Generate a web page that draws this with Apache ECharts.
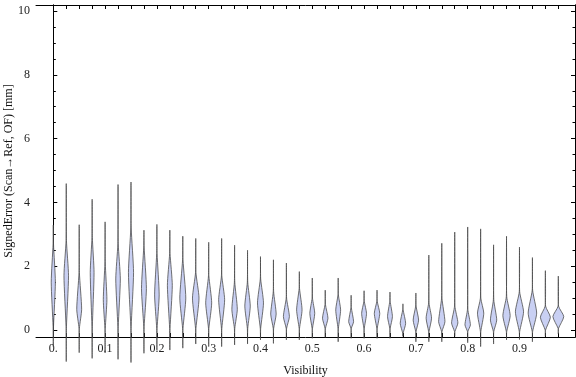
<!DOCTYPE html>
<html>
<head>
<meta charset="utf-8">
<script src="https://cdn.jsdelivr.net/npm/echarts@6/dist/echarts.min.js"></script>
<style>
  html, body { margin: 0; padding: 0; background: #fff; }
  #chart { width: 576px; height: 377px; }
</style>
</head>
<body>
<div id="chart"></div>
<script>
// violin chart: SignedError vs Visibility

// violin positions (Visibility bins)
var visibility = [0, 0.025, 0.05, 0.075, 0.1, 0.125, 0.15, 0.175, 0.2, 0.225,
                  0.25, 0.275, 0.3, 0.325, 0.35, 0.375, 0.4, 0.425, 0.45, 0.475,
                  0.5, 0.525, 0.55, 0.575, 0.6, 0.625, 0.65, 0.675, 0.7, 0.725,
                  0.75, 0.775, 0.8, 0.825, 0.85, 0.875, 0.9, 0.925, 0.95, 0.975];
// min / max of each distribution
var errMin = [-0.52, -0.99, -0.71, -0.89, -0.72, -0.92, -1.02, -0.73, -0.63, -0.63,
              -0.57, -0.44, -0.52, -0.52, -0.47, -0.44, -0.31, -0.42, -0.31, -0.31,
              -0.26, -0.23, -0.37, -0.26, -0.26, -0.26, -0.26, -0.20, -0.37, -0.37,
              -0.37, -0.20, -0.40, -0.52, -0.44, -0.31, -0.30, -0.37, -0.20, -0.12];
var errMax = [3.29, 4.59, 3.30, 4.10, 3.39, 4.56, 4.64, 3.13, 3.31, 3.13,
              2.94, 2.87, 2.75, 2.87, 2.66, 2.50, 2.30, 2.20, 2.10, 1.83,
              1.63, 1.25, 1.63, 1.09, 1.23, 1.25, 1.19, 0.82, 1.16, 2.35,
              2.72, 3.07, 3.23, 3.17, 2.67, 2.94, 2.60, 2.27, 1.86, 1.69];
// body of the density: lower end, mode, upper end
var bodyLow = [0.10, 0.10, 0.05, 0.10, 0.05, 0.10, 0.10, 0.10, 0.05, 0.05,
               0.05, 0.05, 0.05, 0.05, 0.05, 0.05, 0.05, 0.05, 0.05, 0.05,
               0.05, 0.05, 0.05, 0.05, 0.05, 0.05, 0.05, -0.10, -0.05, -0.05,
               -0.05, -0.05, -0.05, -0.05, -0.05, -0.05, -0.05, -0.05, 0.00, 0.05];
var bodyMode = [1.50, 1.70, 0.65, 1.80, 0.95, 1.60, 1.80, 1.30, 1.10, 1.40,
                1.00, 1.00, 0.85, 0.95, 0.65, 0.75, 0.85, 0.50, 0.42, 0.63,
                0.52, 0.37, 0.63, 0.26, 0.52, 0.52, 0.42, 0.21, 0.31, 0.37,
                0.26, 0.22, 0.16, 0.53, 0.31, 0.45, 0.57, 0.53, 0.40, 0.42];
var bodyHigh = [2.70, 2.80, 1.80, 2.90, 2.10, 2.70, 3.20, 2.60, 2.40, 2.40,
                2.20, 1.80, 1.70, 1.70, 1.50, 1.50, 1.60, 1.20, 1.00, 1.30,
                1.00, 0.80, 1.10, 0.70, 0.90, 0.90, 0.90, 0.63, 0.75, 0.85,
                1.00, 0.75, 0.65, 1.00, 0.95, 1.05, 1.20, 1.25, 0.75, 0.75];
// peak density (relative)
var peakDensity = [0.38, 0.42, 0.45, 0.35, 0.33, 0.42, 0.47, 0.45, 0.42, 0.45,
                   0.55, 0.60, 0.55, 0.55, 0.50, 0.50, 0.55, 0.50, 0.55, 0.50,
                   0.45, 0.50, 0.45, 0.45, 0.45, 0.50, 0.45, 0.50, 0.50, 0.50,
                   0.58, 0.58, 0.50, 0.58, 0.58, 0.67, 0.75, 0.78, 0.92, 1.00];

var xLabelValues = [0, 0.1, 0.2, 0.3, 0.4, 0.5, 0.6, 0.7, 0.8, 0.9];
var xLabelText = ['0.', '0.1', '0.2', '0.3', '0.4', '0.5', '0.6', '0.7', '0.8', '0.9'];
var yMajor = [0, 2, 4, 6, 8, 10];
var yMinor = [0.5, 1, 1.5, 2.5, 3, 3.5, 4.5, 5, 5.5, 6.5, 7, 7.5, 8.5, 9, 9.5];

var HALF_MAX = 0.0105;   // half width of the fattest violin, in x units
var TAIL = 0.0004;

var violinData = visibility.map(function (v, i) {
    return [v, errMin[i], bodyLow[i], bodyMode[i], bodyHigh[i], errMax[i], peakDensity[i]];
});

var serif = '"Liberation Serif", "DejaVu Serif", serif';

var chart = echarts.init(document.getElementById('chart'));

function yAx(pos, ticks, len, labels) {
    return {
        type: 'value',
        position: pos,
        min: -0.22,
        max: 10.19,
        axisLine: {show: true, lineStyle: {color: '#000', width: 1}},
        axisTick: {show: true, inside: true, length: len, customValues: ticks,
                   lineStyle: {color: '#000', width: 1}},
        axisLabel: labels ? {show: true, customValues: yMajor, margin: 6,
                   fontFamily: serif, fontSize: 12, color: '#222'} : {show: false},
        splitLine: {show: false}
    };
}

var option = {
    animation: false,
    backgroundColor: '#fff',
    grid: {left: 36, right: 1, top: 5, bottom: 40, containLabel: false, outerBoundsMode: 'none'},
    xAxis: [
        {
            type: 'value',
            position: 'bottom',
            min: -0.0334,
            max: 1.0072,
            name: 'Visibility',
            nameLocation: 'middle',
            nameGap: 28,
            nameTextStyle: {fontFamily: serif, fontSize: 12, color: '#111'},
            axisLine: {show: true, onZero: false, lineStyle: {color: '#000', width: 1}},
            axisTick: {show: true, inside: true, length: 4, customValues: visibility,
                       lineStyle: {color: '#000'}},
            axisLabel: {
                show: true,
                customValues: xLabelValues,
                margin: 6,
                fontFamily: serif,
                fontSize: 12,
                color: '#222',
                formatter: function (v) {
                    var k = xLabelValues.indexOf(v);
                    return k >= 0 ? xLabelText[k] : '';
                }
            },
            splitLine: {show: false}
        },
        {
            type: 'value',
            position: 'top',
            min: -0.0334,
            max: 1.0072,
            axisLine: {show: true, onZero: false, lineStyle: {color: '#000', width: 1}},
            axisTick: {show: true, inside: true, length: 4, customValues: visibility,
                       lineStyle: {color: '#000'}},
            axisLabel: {show: false},
            splitLine: {show: false}
        }
    ],
    yAxis: [
        Object.assign(yAx('left', yMajor, 4, true), {
            name: 'SignedError (Scan\u2192Ref, OF) [mm]',
            nameLocation: 'middle',
            nameGap: 21,
            nameMoveOverlap: false,
            nameTextStyle: {fontFamily: serif, fontSize: 12, color: '#111'}
        }),
        yAx('left', yMinor, 2.5, false),
        yAx('right', yMajor, 4, false),
        yAx('right', yMinor, 2.5, false)
    ],
    series: [
        {
            type: 'custom',
            xAxisIndex: 0,
            yAxisIndex: 0,
            clip: false,
            data: violinData,
            renderItem: function (params, api) {
                var x = api.value(0);
                var hw = api.value(6) * HALF_MAX;
                var pts = [
                    api.coord([x, api.value(1)]),
                    api.coord([x + TAIL, api.value(2)]),
                    api.coord([x + hw, api.value(3)]),
                    api.coord([x + TAIL, api.value(4)]),
                    api.coord([x, api.value(5)]),
                    api.coord([x - TAIL, api.value(4)]),
                    api.coord([x - hw, api.value(3)]),
                    api.coord([x - TAIL, api.value(2)])
                ];
                return {
                    type: 'polygon',
                    shape: {points: pts, smooth: 0.2},
                    style: {fill: '#c9d0f3', stroke: '#444', lineWidth: 0.75}
                };
            }
        }
    ]
};

chart.setOption(option);
</script>
</body>
</html>
